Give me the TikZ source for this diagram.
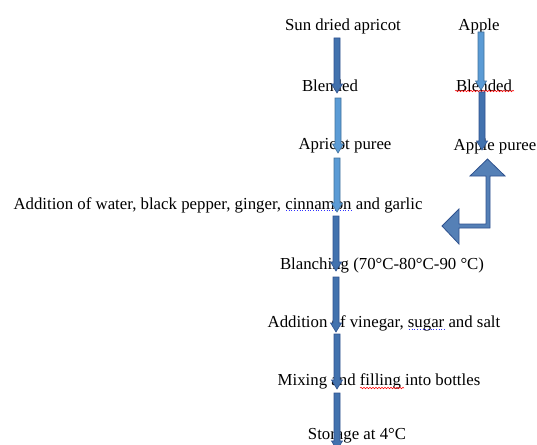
\documentclass[tikz,border=0pt]{standalone}
\usepackage{fontspec}
\setmainfont{Liberation Serif}
\usetikzlibrary{calc}
\usetikzlibrary{decorations.pathmorphing}

\definecolor{lightflow}{HTML}{5B9BD5}
\definecolor{lightedge}{HTML}{41719C}
\definecolor{darkflow}{HTML}{4272AE}
\definecolor{darkedge}{HTML}{2F528F}

\begin{document}
\begin{tikzpicture}[
  x=1pt, y=-1pt,
  every node/.style={inner sep=0pt, font=\fontsize{16.8}{20}\selectfont},
  flow/.style={line width=0.6pt, to path={($(\tikztostart)+(-3,0)$) -- ($(\tikztotarget)+(-3,-9)$)
      -- ($(\tikztotarget)+(-5.5,-9)$) -- (\tikztotarget) -- ($(\tikztotarget)+(5.5,-9)$)
      -- ($(\tikztotarget)+(3,-9)$) -- ($(\tikztostart)+(3,0)$) -- cycle}},
  light flow/.style={flow, fill=lightflow, draw=lightedge},
  dark flow/.style={flow, fill=darkflow, draw=darkedge},
  spell/.style={red, line width=0.5pt, decorate, decoration={snake, amplitude=0.8pt, segment length=3pt}},
  grammar/.style={blue!80!white, dotted, line width=0.7pt}
  ]
  \path[use as bounding box, clip] (0,0) rectangle (537,444);

  \node (sun) at (343,26) {Sun dried apricot};
  \node (apple) at (479,26) {Apple};
  \node (blend) at (330,86) {Blended};
  \node (ablend) at (484,86) {Blended};
  \node (puree) at (345,146) {Apricot puree};
  \node (apuree) at (495,146) {Apple puree};
  \node (water) at (218,205) {Addition of water, black pepper, ginger, cinnamon and garlic};
  \node (blanch) at (382,265) {Blanching (70°C-80°C-90 °C)};
  \node (vinegar) at (384,323) {Addition of vinegar, sugar and salt};
  \node (mix) at (379,381) {Mixing and filling into bottles};
  \node (store) at (357,435.5) {Storage at 4°C};

  \draw[spell] (455,91) -- (514,91);
  \draw[spell] (360,388) -- (404,388);
  \draw[grammar] (286,210) -- (353,210);
  \draw[grammar] (409,329) -- (446,329);

	\coordinate (s1) at (337,38);  \coordinate (e1) at (337,93);
	\coordinate (s2) at (338,98);  \coordinate (e2) at (338,153);
	\coordinate (s3) at (337,158); \coordinate (e3) at (337,212);
	\coordinate (s4) at (336,216); \coordinate (e4) at (336,271);
	\coordinate (s5) at (336,277); \coordinate (e5) at (336,332);
	\coordinate (s6) at (337,334); \coordinate (e6) at (337,389);
	\coordinate (s7) at (337,393); \coordinate (e7) at (337,450);

	\coordinate (t1) at (481,32);  \coordinate (f1) at (481,90);
	\coordinate (t2) at (482,92);  \coordinate (f2) at (482,150);

  \draw[dark flow] (s1) to (e1);
  \draw[light flow] (s2) to (e2);
  \draw[light flow] (s3) to (e3);
  \draw[dark flow] (s4) to (e4);
  \draw[dark flow] (s5) to (e5);
  \draw[dark flow] (s6) to (e6);
  \draw[dark flow] (s7) to (e7);

  \draw[light flow] (t1) to (f1);
  \draw[dark flow] (t2) to (f2);

  % bent arrow, pointing up and left
	\coordinate (up) at (487.5,159);
	\coordinate (left) at (442,226);
  \draw[line width=0.8pt, draw=darkedge, fill=darkflow!90!white] (up) -- (505,176) -- (490,176) -- (490,228)
    -- (459,228) -- (459,244) -- (left) -- (459,209) -- (459,224) -- (486,224) -- (486,176) -- (470,176) -- cycle;
\end{tikzpicture}
\end{document}
